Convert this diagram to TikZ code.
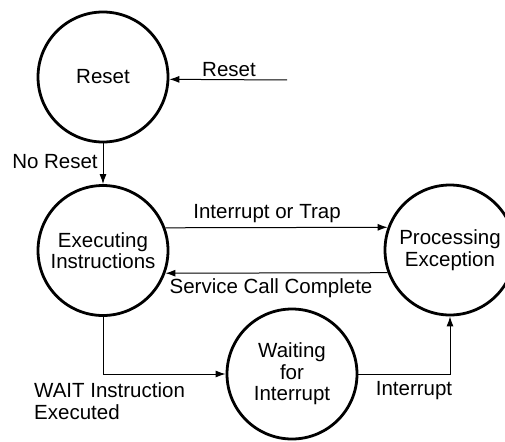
\documentclass[tikz,border=0pt]{standalone}
\usepackage{fontspec}
\setmainfont{Liberation Sans}
\usetikzlibrary{arrows.meta}
\tikzset{
  state/.style={circle, draw, line width=2.8pt, minimum size=130pt, inner sep=0pt, align=center,
    font=\fontsize{20.5}{21.5}\selectfont},
  conn/.style={line width=1pt, -{Latex[length=10pt,width=7pt]}},
  lbl/.style={inner sep=0pt, font=\fontsize{20.5}{21.5}\selectfont}
}
\begin{document}
\begin{tikzpicture}[x=1pt,y=-1pt]
\useasboundingbox (0,0) rectangle (505,441);
\clip (0,0) rectangle (505,441);
\node[state] (reset) at (103,77) {Reset};
\node[state] (exec) at (103,250.5) {Executing\\Instructions};
\node[state] (proc) at (450,250) {Processing\\Exception};
\node[state] (wait) at (292,374) {Waiting\\for\\Interrupt};
\coordinate (rin) at (287,80);
\draw[conn] (rin) -- (reset.-2.6);
\draw[conn] (reset.south) -- (exec.north);
\draw[conn] (exec.20) -- (proc.160);
\draw[conn] (proc.200) -- (exec.-20);
\draw[conn] (exec.south) |- (wait.west);
\draw[conn] (wait.east) -| (proc.south);
\node[lbl] (lreset) at (229,70) {Reset};
\node[lbl] (lnoreset) at (55,162) {No Reset};
\node[lbl] (lint) at (267,214) {Interrupt or Trap};
\node[lbl] (lsvc) at (271,288) {Service Call Complete};
\node[lbl, align=left, anchor=west] (lwait) at (34,401) {WAIT Instruction\\Executed};
\node[lbl] (lint2) at (414,391) {Interrupt};
\end{tikzpicture}
\end{document}
